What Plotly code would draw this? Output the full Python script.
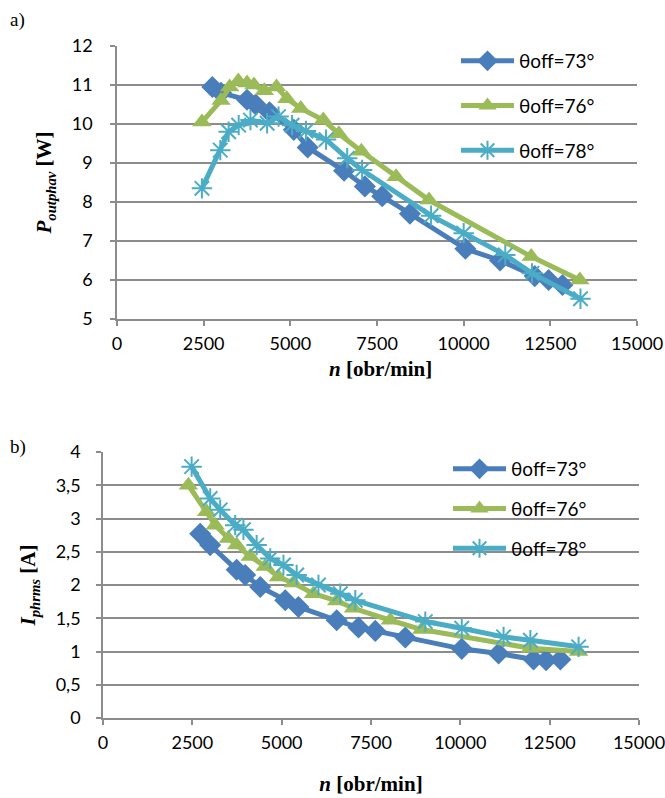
import plotly.graph_objects as go

# ---------------- data ----------------
# panel a) average output power [W]
a_n73 = [2750, 3000, 3750, 4000, 4400, 5100, 5500, 6550, 7150, 7650, 8450, 10050, 11050, 12050, 12450, 12850]
a_p73 = [10.95, 10.8, 10.62, 10.5, 10.3, 9.85, 9.4, 8.8, 8.4, 8.15, 7.7, 6.8, 6.5, 6.1, 6.0, 5.87]
a_n76 = [2450, 3000, 3250, 3500, 3750, 3950, 4250, 4600, 4900, 5300, 5950, 6400, 7050, 8050, 9000, 11950, 13350]
a_p76 = [10.05, 10.6, 10.95, 11.1, 11.05, 11.0, 10.85, 10.95, 10.65, 10.4, 10.1, 9.75, 9.3, 8.65, 8.05, 6.6, 6.0]
a_n78 = [2450, 2980, 3220, 3510, 3850, 4330, 4660, 5050, 5450, 6030, 6640, 7070, 9060, 10000, 11200, 11970, 13370]
a_p78 = [8.35, 9.33, 9.8, 9.97, 10.1, 10.02, 10.19, 9.97, 9.82, 9.6, 9.12, 8.82, 7.65, 7.2, 6.64, 6.17, 5.52]

# panel b) rms phase current [A]
b_n73 = [2720, 3000, 3740, 3980, 4400, 5100, 5470, 6540, 7150, 7620, 8460, 10040, 11070, 12050, 12400, 12800]
b_i73 = [2.77, 2.6, 2.23, 2.15, 1.97, 1.77, 1.67, 1.47, 1.36, 1.31, 1.21, 1.04, 0.97, 0.88, 0.87, 0.88]
b_n76 = [2390, 2900, 3140, 3510, 3740, 4120, 4540, 4910, 5330, 5890, 6540, 7010, 8040, 8920, 11960, 13310]
b_i76 = [3.5, 3.1, 2.9, 2.7, 2.6, 2.43, 2.28, 2.12, 2.03, 1.87, 1.76, 1.65, 1.47, 1.33, 1.05, 1.0]
b_n78 = [2480, 3000, 3280, 3700, 3930, 4300, 4680, 5050, 5420, 6030, 6640, 7060, 9020, 10040, 11210, 11960, 13310]
b_i78 = [3.78, 3.3, 3.13, 2.9, 2.83, 2.6, 2.4, 2.3, 2.15, 2.0, 1.87, 1.77, 1.45, 1.35, 1.22, 1.17, 1.07]

series_names = ["θoff=73°", "θoff=76°", "θoff=78°"]
x_ticks = [0, 2500, 5000, 7500, 10000, 12500, 15000]
x_ticktext = ["0", "2500", "5000", "7500", "10000", "12500", "15000"]
a_y_ticks = [5, 6, 7, 8, 9, 10, 11, 12]
a_y_ticktext = ["5", "6", "7", "8", "9", "10", "11", "12"]
b_y_ticks = [0, 0.5, 1, 1.5, 2, 2.5, 3, 3.5, 4]
b_y_ticktext = ["0", "0,5", "1", "1,5", "2", "2,5", "3", "3,5", "4"]
x_title = "<b><i>n</i> [obr/min]</b>"

# ---------------- styling ----------------
colors = ["#4A7EBB", "#9BBB59", "#4BACC6"]
symbols = ["diamond", "triangle-up", "asterisk-open"]
msizes = [17, 17, 17]
W, H = 665, 798
sans = "Lato, Open Sans, sans-serif"
tick_font = dict(family=sans, size=18, color="#000")
title_font = dict(family="Liberation Serif, serif", size=21, color="#000")
legend_font = dict(family=sans, size=19, color="#000")
grid_c = "#8c8c8c"

fig = go.Figure()

panels = [
    ("x", "y", "legend", [(a_n73, a_p73), (a_n76, a_p76), (a_n78, a_p78)]),
    ("x2", "y2", "legend2", [(b_n73, b_i73), (b_n76, b_i76), (b_n78, b_i78)]),
]
for xa, ya, lg, data in panels:
    for k, (xs, ys) in enumerate(data):
        mk = dict(symbol=symbols[k], size=msizes[k], color=colors[k])
        if symbols[k] == "asterisk-open":
            mk["line"] = dict(color=colors[k], width=2)
        fig.add_trace(go.Scatter(
            x=xs, y=ys, name=series_names[k], mode="lines+markers",
            line=dict(color=colors[k], width=5),
            marker=mk, xaxis=xa, yaxis=ya, legend=lg,
            legendgroup=lg + str(k),
        ))

def px_x(p):
    return p / W

def px_y(p):
    return 1 - p / H

common_x = dict(
    range=[0, 15000], tickvals=x_ticks, ticktext=x_ticktext,
    showgrid=False, zeroline=False, showline=True, linecolor=grid_c, linewidth=1.5,
    ticks="outside", ticklen=5, tickcolor=grid_c, tickwidth=1.5,
    tickfont=tick_font, automargin=False, ticklabelstandoff=3,
    ticklabeloverflow="allow",
)
common_y = dict(
    showgrid=True, gridcolor=grid_c, gridwidth=1.5, zeroline=False,
    showline=True, linecolor=grid_c, linewidth=1.5,
    ticks="outside", ticklen=5, tickcolor=grid_c, tickwidth=1.5,
    tickfont=tick_font, automargin=False, ticklabeloverflow="allow",
)

fig.update_layout(
    width=W, height=H,
    margin=dict(l=0, r=0, t=0, b=0, autoexpand=False),
    paper_bgcolor="white", plot_bgcolor="white",
    xaxis=dict(common_x, domain=[px_x(117), px_x(637)], anchor="y"),
    yaxis=dict(common_y, domain=[px_y(319), px_y(46)], anchor="x",
               range=[5, 12], tickvals=a_y_ticks, ticktext=a_y_ticktext, ticklabelstandoff=14,
               title=dict(text="<b><i>P</i><sub><i>outphav</i></sub> [W]</b>", font=title_font, standoff=14)),
    xaxis2=dict(common_x, domain=[px_x(103), px_x(639)], anchor="y2",
                title=dict(text=x_title, font=title_font, standoff=24)),
    yaxis2=dict(common_y, domain=[px_y(718), px_y(452)], anchor="x2",
                range=[0, 4], tickvals=b_y_ticks, ticktext=b_y_ticktext, ticklabelstandoff=12,
                title=dict(text="<b><i>I</i><sub><i>phrms</i></sub> [A]</b>", font=title_font, standoff=14)),
    legend=dict(x=px_x(456), y=px_y(42), xanchor="left", yanchor="top",
                bgcolor="rgba(255,255,255,0)", traceorder="grouped", tracegroupgap=17,
                itemwidth=53, font=legend_font),
    legend2=dict(x=px_x(448), y=px_y(450), xanchor="left", yanchor="top",
                 bgcolor="rgba(255,255,255,0)", traceorder="grouped", tracegroupgap=12,
                 itemwidth=53, font=legend_font),
    annotations=[
        dict(text="a)", x=px_x(8), y=px_y(20), xref="paper", yref="paper",
             xanchor="left", yanchor="middle", showarrow=False,
             font=dict(family="Liberation Serif, serif", size=19, color="#000")),
        dict(text="b)", x=px_x(8), y=px_y(447), xref="paper", yref="paper",
             xanchor="left", yanchor="middle", showarrow=False,
             font=dict(family="Liberation Serif, serif", size=19, color="#000")),
        # x-axis title of panel a (sits tight under the tick labels, as in the reference)
        dict(text=x_title, x=px_x(381), y=px_y(369), xref="paper", yref="paper",
             xanchor="center", yanchor="middle", showarrow=False, font=title_font),
    ],
)

fig.write_html("out.html")
